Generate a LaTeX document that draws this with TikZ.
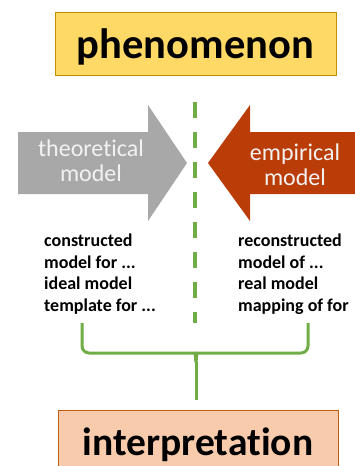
\documentclass[tikz,border=0pt]{standalone}
\usepackage{fontspec}
\setmainfont[Ligatures=NoCommon]{Carlito}

\definecolor{phenfill}{RGB}{255,217,102}
\definecolor{phenline}{RGB}{191,144,0}
\definecolor{interpfill}{RGB}{248,203,173}
\definecolor{interpline}{RGB}{197,90,17}
\definecolor{theogray}{RGB}{168,168,168}
\definecolor{emprust}{RGB}{186,60,6}
\definecolor{dividegreen}{RGB}{112,173,71}

\tikzset{
    titlebox/.style={draw=#1line, fill=#1fill, line width=1pt, inner sep=0pt,
        font=\fontsize{42.5}{48}\selectfont\bfseries},
    arrowtext/.style={text=white!95!black, align=center, inner sep=0pt, anchor=north,
        font=\fontsize{24}{24.5}\selectfont},
    listtext/.style={align=left, inner sep=0pt, anchor=north west,
        font=\fontsize{18}{21.7}\selectfont\bfseries},
    bracket/.style={draw=dividegreen, line width=3pt}
}

% shaft from #2 to #3, head from #3 to tip #4
\newcommand\modelarrow[4]{
    \fill[#1] (#2,132) -- (#3,132) -- (#3,105) -- (#4,163) -- (#3,221) -- (#3,194) -- (#2,194) -- cycle;
}

\begin{document}
\begin{tikzpicture}[x=1pt, y=-1pt]
    \useasboundingbox (0,0) rectangle (355,466);

    \node[titlebox=phen, minimum width=281pt, minimum height=63pt,
        text height=29pt, text depth=0pt] (phen) at (195.5,43.5) {phenomenon};

    \modelarrow{theogray}{18}{148}{187}
    \modelarrow{emprust}{360}{250}{208}

    \node[arrowtext] (theo) at (91,140) {theoretical\\model};
    \node[arrowtext] (emp) at (295,144) {empirical\\model};

    \coordinate (divtop) at (195,102);
    \coordinate (divbot) at (195,323);
    \draw[dividegreen, line width=4pt, dash pattern=on 16pt off 14pt] (divtop) -- (divbot);

    \node[listtext] (listL) at (44,233.5) {constructed\\model for ...\\ideal model\\template for ...};
    \node[listtext] (listR) at (238,233.5) {reconstructed\\model of ...\\real model\\mapping of for};

    \node[titlebox=interp, font=\fontsize{39.5}{46}\selectfont\bfseries,
        minimum width=280pt, minimum height=80pt,
        text height=20pt, text depth=10pt] (interp) at (198,450) {interpretation};

    % bracket joining both lists
    \coordinate (bl) at (82,323);
    \coordinate (br) at (308,323);
    \coordinate (bm) at (196,362);
    \coordinate (stem) at (196,400);
    \draw[bracket, rounded corners=7pt] (bl) |- (188,353) .. controls (195,353) .. (bm);
    \draw[bracket, rounded corners=7pt] (br) |- (204,353) .. controls (197,353) .. (bm);
    \draw[bracket] (bm) -- (stem);
\end{tikzpicture}
\end{document}
